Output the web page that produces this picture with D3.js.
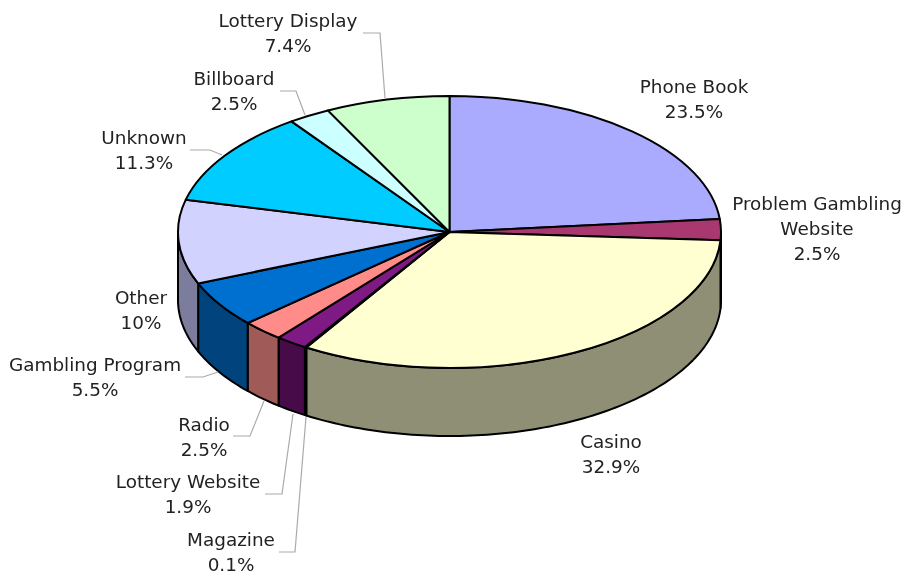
<!DOCTYPE html>
<html><head><meta charset="utf-8">
<script src="https://cdn.jsdelivr.net/npm/d3@7"></script>
<style>
html,body{margin:0;padding:0;background:#fff}
svg{display:block;filter:blur(0.35px)}
text{font-family:"DejaVu Sans",Verdana,sans-serif;font-size:18.4px;fill:#222;text-anchor:middle}
</style></head><body>
<svg id="chart" width="905" height="574"></svg>
<script>
const categories = ["Phone Book","Problem Gambling Website","Casino","Magazine","Lottery Website","Radio","Gambling Program","Other","Unknown","Billboard","Lottery Display"];
const shares = [23.5,2.5,32.9,0.1,1.9,2.5,5.5,10,11.3,2.5,7.4];
const shareLabels = ["23.5%","2.5%","32.9%","0.1%","1.9%","2.5%","5.5%","10%","11.3%","2.5%","7.4%"];
const topColors = ["#aaaaff","#a8386f","#ffffd2","#9a3a9a","#7f1a85","#ff8c88","#0070d0","#d2d2ff","#00ccff","#ccffff","#ccffcc"];
const wallColors = ["#66669a","#652243","#8f8f76","#5c235c","#470b4a","#a05a57","#00437d","#7c7c9c","#007a99","#7a9999","#7a997a"];

// label layout: centre x, baseline of first line, lines
const labelLayout = [
  {x:694,y:93,lines:["Phone Book"]},
  {x:817,y:210,lines:["Problem Gambling","Website"]},
  {x:611,y:448,lines:["Casino"]},
  {x:231,y:546,lines:["Magazine"]},
  {x:188,y:488,lines:["Lottery Website"]},
  {x:204,y:431,lines:["Radio"]},
  {x:95,y:371,lines:["Gambling Program"]},
  {x:141,y:304,lines:["Other"]},
  {x:144,y:144,lines:["Unknown"]},
  {x:234,y:85,lines:["Billboard"]},
  {x:288,y:27,lines:["Lottery Display"]}
];
const leaderLayout = [
  null,null,null,
  [[279,552],[295,552],[306,417]],
  [[265,494],[282,494],[293,414]],
  [[233,436],[250,436],[264,401]],
  [[185,377],[203,377],[218,372]],
  null,
  [[190,150],[210,150],[222,155]],
  [[280,91],[296,91],[305,115]],
  [[363,33],[380,33],[385,98]]
];

const cx=449.5, cy=232, rx=271.5, ry=136, depth=68;
const svg=d3.select("#chart");
const pie=d3.pie().sort(null).value(d=>d)(shares);
const px=a=>cx+rx*Math.sin(a), py=a=>cy-ry*Math.cos(a);
const HALF=Math.PI/2, END=Math.PI*1.5;

// walls
const wallG=svg.append("g");
pie.forEach((s,i)=>{
  const a0=Math.max(s.startAngle,HALF), a1=Math.min(s.endAngle,END);
  if(a1<=a0) return;
  const n=Math.max(2,Math.ceil((a1-a0)/0.02));
  const as=d3.range(n+1).map(k=>a0+(a1-a0)*k/n);
  const pts=as.map(a=>[px(a),py(a)]).concat(as.slice().reverse().map(a=>[px(a),py(a)+depth]));
  wallG.append("path")
    .attr("d",d3.line()(pts)+"Z")
    .attr("fill",wallColors[i]).attr("stroke","#000").attr("stroke-width",2).attr("stroke-linejoin","round");
});

// top face
const arc=d3.arc().innerRadius(0).outerRadius(rx);
const topFace=svg.append("g").attr("transform",`translate(${cx},${cy}) scale(1,${ry/rx})`);
topFace.selectAll("path").data(pie).join("path")
  .attr("d",arc)
  .attr("fill",(d,i)=>topColors[i])
  .attr("stroke","#000").attr("stroke-width",2).attr("stroke-linejoin","round")
  .attr("vector-effect","non-scaling-stroke");

// leaders
svg.append("g").selectAll("path").data(leaderLayout.filter(Boolean)).join("path")
  .attr("d",d3.line()).attr("fill","none").attr("stroke","#aaa").attr("stroke-width",1.2);

// labels
const lab=svg.append("g").selectAll("text").data(categories).join("text")
  .attr("transform",(d,i)=>`translate(${labelLayout[i].x},${labelLayout[i].y})`);
lab.each(function(d,i){
  const t=d3.select(this);
  labelLayout[i].lines.concat([shareLabels[i]]).forEach((l,k)=>{
    t.append("tspan").attr("x",0).attr("y",k*25).text(l);
  });
});
</script>
</body></html>
